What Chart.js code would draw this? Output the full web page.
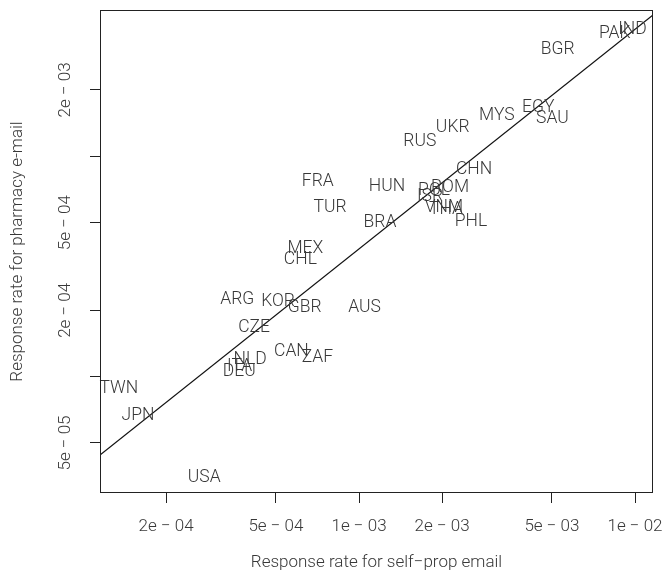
<!DOCTYPE html>
<html><head><meta charset="utf-8">
<script src="https://cdn.jsdelivr.net/npm/chart.js@4/dist/chart.umd.min.js"></script>
<style>html,body{margin:0;padding:0;background:#fff}#wrap{width:665px;height:575px}</style>
</head><body><div id="wrap"><canvas id="c" width="665" height="575"></canvas></div>
<script>
// ---- data ----
const countries = ['IND','PAK','BGR','EGY','SAU','MYS','UKR','RUS','CHN','HUN','ROM','POL','ISR','VNM','THA','PHL','BRA','FRA','TUR','MEX','CHL','ARG','KOR','GBR','AUS','CZE','NLD','ITA','DEU','CAN','ZAF','TWN','JPN','USA'];
const selfProp = [9.79e-3,8.44e-3,5.25e-3,4.46e-3,5.02e-3,3.16e-3,2.185e-3,1.66e-3,2.61e-3,1.263e-3,2.137e-3,1.87e-3,1.808e-3,2.032e-3,2.066e-3,2.545e-3,1.191e-3,7.09e-4,7.85e-4,6.39e-4,6.13e-4,3.62e-4,5.09e-4,6.36e-4,1.047e-3,4.165e-4,4.03e-4,3.69e-4,3.68e-4,5.69e-4,7.07e-4,1.348e-4,1.582e-4,2.749e-4];
const pharmacy = [3.81e-3,3.67e-3,3.11e-3,1.68e-3,1.508e-3,1.561e-3,1.373e-3,1.182e-3,8.79e-4,7.41e-4,7.35e-4,7.07e-4,6.67e-4,5.92e-4,5.83e-4,5.12e-4,5.09e-4,7.78e-4,5.96e-4,3.89e-4,3.44e-4,2.267e-4,2.22e-4,2.097e-4,2.097e-4,1.70e-4,1.211e-4,1.129e-4,1.068e-4,1.317e-4,1.243e-4,8.97e-5,6.73e-5,3.53e-5];
const fitX = [1.152e-4, 1.162e-2];
const fitY = [4.41e-5, 4.38e-3];
const xRange = [1.152e-4, 1.162e-2];
const yRange = [2.965e-5, 4.61e-3];
const xTickValues = [2e-4, 5e-4, 1e-3, 2e-3, 5e-3, 1e-2];
const xTickLabels = ['2e \u2212 04','5e \u2212 04','1e \u2212 03','2e \u2212 03','5e \u2212 03','1e \u2212 02'];
const yTickValues = [5e-5, 1e-4, 2e-4, 5e-4, 1e-3, 2e-3];
const yTickLabels = ['5e \u2212 05','','2e \u2212 04','5e \u2212 04','','2e \u2212 03'];
const xTitle = 'Response rate for self\u2212prop email';
const yTitle = 'Response rate for pharmacy e-mail';

// ---- styles ----
const FAMILY = 'Roboto, "DejaVu Sans", sans-serif';
const WEIGHT = 300;
const TEXT = '#383838';
const tickFont = {family: FAMILY, size: 17, weight: WEIGHT};
const titleFont = {family: FAMILY, size: 17, weight: WEIGHT};
const mctx = document.createElement('canvas').getContext('2d');
mctx.font = WEIGHT + ' 17px ' + FAMILY;
const yLabW = mctx.measureText(yTickLabels[0]).width;

const labelPlugin = {
  id: 'countryLabels',
  afterDatasetsDraw(chart) {
    const meta = chart.getDatasetMeta(0);
    const ctx = chart.ctx;
    ctx.save();
    ctx.font = WEIGHT + ' 17.5px ' + FAMILY;
    ctx.fillStyle = TEXT;
    ctx.textAlign = 'center';
    ctx.textBaseline = 'middle';
    meta.data.forEach((pt, i) => ctx.fillText(countries[i], pt.x, pt.y + 1.5));
    ctx.restore();
  }
};
const framePlugin = {
  id: 'frame',
  afterDraw(chart) {
    const a = chart.chartArea, ctx = chart.ctx;
    ctx.save();
    ctx.strokeStyle = '#222';
    ctx.lineWidth = 1;
    ctx.strokeRect(Math.round(a.left) + 0.5, Math.round(a.top) + 0.5, Math.round(a.right - a.left) - 1, Math.round(a.bottom - a.top) - 1);
    ctx.restore();
  }
};

new Chart(document.getElementById('c'), {
  type: 'scatter',
  data: {
    datasets: [
      {data: countries.map((c, i) => ({x: selfProp[i], y: pharmacy[i]})), pointRadius: 0, pointHoverRadius: 0},
      {type: 'line', data: fitX.map((x, i) => ({x: x, y: fitY[i]})), borderColor: '#111', borderWidth: 1.2, pointRadius: 0, fill: false, tension: 0}
    ]
  },
  options: {
    responsive: false, animation: false, events: [],
    layout: {padding: {top: 10, right: 12, left: 0, bottom: 0}},
    plugins: {legend: {display: false}, tooltip: {enabled: false}},
    scales: {
      x: {
        type: 'logarithmic', position: 'bottom', min: xRange[0], max: xRange[1],
        afterBuildTicks: s => { s.ticks = xTickValues.map(v => ({value: v})); },
        afterFit: s => { s.height = 82; s.paddingLeft = 0; s.paddingRight = 0; },
        ticks: {autoSkip: false, minRotation: 0, maxRotation: 0, color: TEXT, font: tickFont, padding: 14,
          callback: (v, i) => xTickLabels[i]},
        grid: {drawOnChartArea: false, tickLength: 10, color: '#222', lineWidth: 1},
        border: {display: false},
        title: {display: true, text: xTitle, color: TEXT, font: titleFont, padding: {top: 0, bottom: 2}}
      },
      y: {
        type: 'logarithmic', position: 'left', min: yRange[0], max: yRange[1],
        afterBuildTicks: s => { s.ticks = yTickValues.map(v => ({value: v})); },
        afterFit: s => { s.width = 100; s.paddingTop = 0; s.paddingBottom = 0; },
        ticks: {autoSkip: false, minRotation: 90, maxRotation: 90, crossAlign: 'near', labelOffset: -yLabW / 2,
          color: TEXT, font: tickFont, padding: 24, callback: (v, i) => yTickLabels[i]},
        grid: {drawOnChartArea: false, tickLength: 10, color: '#222', lineWidth: 1},
        border: {display: false},
        title: {display: true, text: yTitle, color: TEXT, font: titleFont, padding: {top: 8, bottom: 0}}
      }
    }
  },
  plugins: [labelPlugin, framePlugin]
});
</script></body></html>
